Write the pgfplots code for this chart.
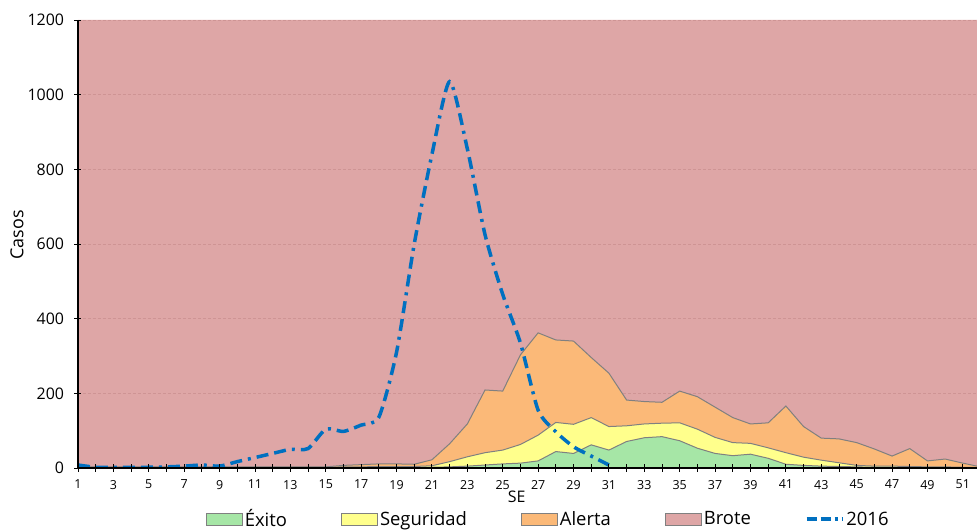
\documentclass[border=0pt]{standalone}
\usepackage{fontspec}
\setmainfont{Open Sans}
\usepackage{pgfplots}
\usepackage{pgfplotstable}
\pgfplotsset{compat=1.18}
\definecolor{brote}{RGB}{222,166,166}
\definecolor{alerta}{RGB}{251,185,120}
\definecolor{seguridad}{RGB}{255,255,140}
\definecolor{exito}{RGB}{166,230,166}
\definecolor{bordegris}{RGB}{128,128,128}
\definecolor{gridc}{RGB}{206,148,148}
\definecolor{linea}{RGB}{0,112,192}

% week, exito (top), seguridad (top), alerta (top), brote (top)
\pgfplotstableread{
w ex seg al br
1 1 2 3 1200
2 1 2 3 1200
3 1 2 3 1200
4 1 2 3 1200
5 1 2 3 1200
6 1 2 3 1200
7 1 2 3 1200
8 1 2 3 1200
9 1 2 3 1200
10 1 2 3 1200
11 1 2 3 1200
12 1 2 3 1200
13 1 2 3 1200
14 1 2 3 1200
15 1 2 3 1200
16 1 3 7 1200
17 1 3 9 1200
18 1 4 11 1200
19 1 4 11 1200
20 1 4 10 1200
21 2 6 22 1200
22 3 17 65 1200
23 5 30 118 1200
24 8 41 209 1200
25 11 48 206 1200
26 13 63 303 1200
27 19 88 362 1200
28 44 122 343 1200
29 39 117 340 1200
30 62 135 296 1200
31 48 111 254 1200
32 71 113 182 1200
33 81 118 178 1200
34 84 120 176 1200
35 73 121 206 1200
36 53 104 191 1200
37 39 82 163 1200
38 33 68 135 1200
39 37 66 118 1200
40 26 54 121 1200
41 10 41 166 1200
42 7 29 111 1200
43 5 21 80 1200
44 4 14 78 1200
45 3 7 68 1200
46 2 5 51 1200
47 2 5 32 1200
48 2 4 52 1200
49 1 3 19 1200
50 1 3 24 1200
51 1 2 13 1200
52 1 1 3 1200
}\canal

\pgfplotstableread{
w c
1 8
2 2
3 2
4 2
5 2
6 3
7 5
8 8
9 5
10 17
11 28
12 39
13 50
14 52
15 104
16 98
17 115
18 136
19 310
20 600
21 840
22 1035
23 855
24 625
25 465
26 335
27 155
28 97
29 57
30 32
31 8
}\casos

\begin{document}
\begin{tikzpicture}
\begin{axis}[
  scale only axis,
  width=899bp, height=448bp,
  xmin=1, xmax=51.8,
  ymin=0, ymax=1200,
  axis on top,
  axis x line*=bottom,
  axis y line*=left,
  axis line style={-, black, line width=1.2bp},
  x axis line style={line width=1.6bp},
  xtick={1,3,...,51},
  minor xtick={2,4,...,52},
  ytick={0,200,...,1200},
  tick align=center,
  major tick length=7bp,
  minor tick length=7bp,
  every tick/.style={black, line width=0.9bp},
  /pgf/number format/assume math mode=true,
  /pgf/number format/1000 sep={},
  xticklabel style={font=\fontsize{12.5}{14}\selectfont, yshift=-5bp},
  yticklabel style={font=\fontsize{16}{18}\selectfont, xshift=-7bp},
  xlabel={SE},
  ylabel={Casos},
  every axis x label/.style={font=\fontsize{16}{18}\selectfont, at={(axis description cs:0.488,-0.064)}, anchor=center},
  every axis y label/.style={font=\fontsize{18}{20}\selectfont, rotate=90, at={(axis description cs:-0.068,0.52)}, anchor=center},
  legend columns=5,
  legend style={draw=none, fill=none, font=\fontsize{18.5}{20}\selectfont,
    at={(0.523,-0.114)}, anchor=center,
    /tikz/every even column/.append style={column sep=52bp}},
]
% legend entries in the reference's order
\addlegendimage{legend image code/.code={\draw[fill=exito, draw=bordegris, line width=1bp] (0bp,-6bp) rectangle (36bp,6bp);}}
\addlegendentry{Éxito}
\addlegendimage{legend image code/.code={\draw[fill=seguridad, draw=bordegris, line width=1bp] (0bp,-6bp) rectangle (36bp,6bp);}}
\addlegendentry{Seguridad}
\addlegendimage{legend image code/.code={\draw[fill=alerta, draw=bordegris, line width=1bp] (0bp,-6bp) rectangle (36bp,6bp);}}
\addlegendentry{Alerta}
\addlegendimage{legend image code/.code={\draw[fill=brote, draw=bordegris, line width=1bp] (0bp,-6bp) rectangle (36bp,6bp);}}
\addlegendentry{Brote}
\addlegendimage{legend image code/.code={\draw[linea, line width=3.5bp, dash pattern=on 10bp off 4bp on 10bp off 4bp on 3bp off 4bp] (0bp,0bp) -- (36bp,0bp);}}
\addlegendentry{2016}

\addplot[forget plot, fill=brote, draw=none] table[x=w, y=br] {\canal} \closedcycle;
\pgfplotsinvokeforeach{200,400,600,800,1000,1200}{
  \addplot[forget plot, gridc, line width=0.8bp, dash pattern=on 3bp off 2bp] coordinates {(1,#1) (52,#1)};
}
\addplot[forget plot, fill=alerta, draw=bordegris, line width=1bp] table[x=w, y=al] {\canal} \closedcycle;
\addplot[forget plot, fill=seguridad, draw=bordegris, line width=1bp] table[x=w, y=seg] {\canal} \closedcycle;
\addplot[forget plot, fill=exito, draw=bordegris, line width=1bp] table[x=w, y=ex] {\canal} \closedcycle;
\addplot[forget plot, linea, line width=3.5bp, smooth, tension=0.4,
  dash pattern=on 12bp off 6bp on 12bp off 6bp on 3bp off 6bp] table[x=w, y=c] {\casos};

\coordinate (sw) at (rel axis cs:0,0);
\coordinate (ne) at (rel axis cs:1,1);
\end{axis}
\pgfresetboundingbox
\path[use as bounding box] ([shift={(-78bp,-64bp)}]sw) rectangle ([shift={(0bp,20bp)}]ne);
\end{tikzpicture}
\end{document}
